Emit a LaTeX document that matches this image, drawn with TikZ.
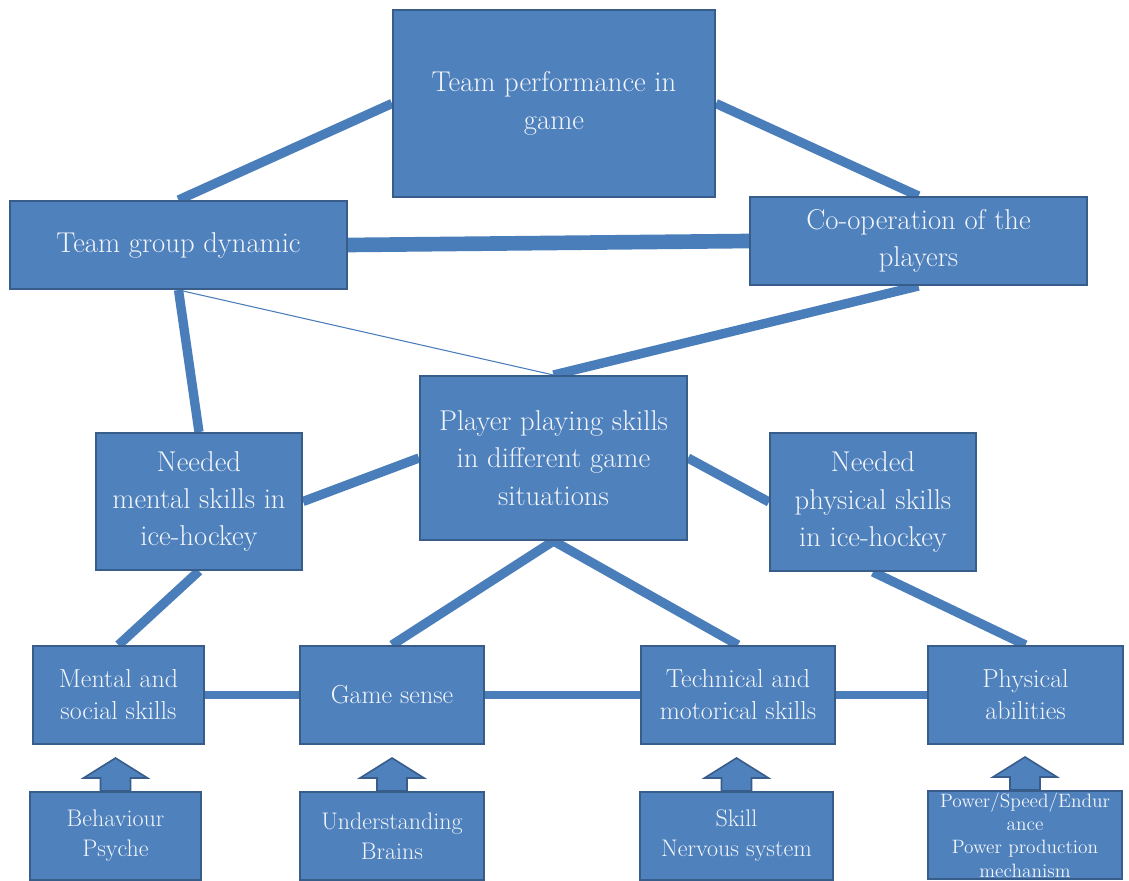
\documentclass[tikz,border=0pt]{standalone}
\usetikzlibrary{backgrounds,calc}
\definecolor{boxfill}{HTML}{4F81BD}
\definecolor{boxline}{HTML}{385D8A}
\definecolor{txtcol}{HTML}{F2F5FA}
\definecolor{linkcol}{HTML}{4A7EBB}
\tikzset{
  box/.style 2 args={draw=boxline, fill=boxfill, line width=1.5pt, text=txtcol,
    align=center, inner sep=0pt, minimum width=#1*0.75pt, minimum height=#2*0.75pt},
  bigtext/.style={font=\fontsize{21.5}{28}\selectfont},
  midtext/.style={font=\fontsize{19.5}{24}\selectfont},
  smalltext/.style={font=\fontsize{18}{22.5}\selectfont},
  tinytext/.style={font=\fontsize{14.5}{17.5}\selectfont},
  link/.style={draw=linkcol, line width=7pt},
  thicklink/.style={draw=linkcol, line width=11pt},
  thinlink/.style={draw=linkcol, line width=0.8pt},
  lowlink/.style={draw=linkcol, line width=6pt},
  blockarrow/.style={draw=boxline, fill=boxfill, line width=1.2pt, line join=miter}
}
\begin{document}
\begin{tikzpicture}[x=0.75pt,y=-0.75pt]
\useasboundingbox (0,0) rectangle (1129,881);

% top levels
\node[box={322}{187}, bigtext] (tp) at (554,103.5) {Team performance in\\game};
\node[box={337}{88}, bigtext] (tgd) at (178.5,245) {Team group dynamic};
\node[box={337}{88}, bigtext] (coop) at (918.5,241) {Co-operation of the\\players};

% middle level
\node[box={267}{164}, bigtext] (player) at (553.5,458) {Player playing skills\\in different game\\situations};
\node[box={206}{137}, bigtext] (mneed) at (199,501.5) {Needed\\mental skills in\\ice-hockey};
\node[box={206}{138}, bigtext] (pneed) at (873,502) {Needed\\physical skills\\in ice-hockey};

% lower row
\node[box={171}{98}, midtext] (ms) at (118.5,695) {Mental and\\social skills};
\node[box={184}{98}, midtext] (gs) at (392,695) {Game sense};
\node[box={194}{98}, midtext] (tech) at (738,695) {Technical and\\motorical skills};
\node[box={195}{98}, midtext] (pa) at (1025.5,695) {Physical\\abilities};

% bottom row
\node[box={171}{88}, smalltext] (b1) at (115.5,836) {Behaviour\\Psyche};
\node[box={184}{88}, smalltext] (b2) at (392,836) {Understanding\\Brains};
\node[box={193}{88}, smalltext] (b3) at (736.5,836) {Skill\\Nervous system};
\node[box={194}{88}, tinytext] (b4) at (1025,835) {Power/Speed/Endur\\ance\\Power production\\mechanism};

\begin{scope}[on background layer]
\fill[white] (0,0) rectangle (1129,881);
% connectors
\draw[link] (tp.west) -- (tgd.north);
\draw[link] (tp.east) -- (coop.north);
\draw[thicklink] (tgd.east) -- (coop.west);
\draw[link] (tgd.south) -- (mneed.north);
\draw[thinlink] (tgd.south) -- (player.north);
\draw[link] (coop.south) -- (player.north);
\draw[link] (player.west) -- (mneed.east);
\draw[link] (player.east) -- (pneed.west);
\draw[link] (player.south) -- (gs.north);
\draw[link] (player.south) -- (tech.north);
\draw[link] (mneed.south) -- (ms.north);
\draw[link] (pneed.south) -- (pa.north);
\draw[lowlink] (ms.east) -- (gs.west);
\draw[lowlink] (gs.east) -- (tech.west);
\draw[lowlink] (tech.east) -- (pa.west);
% block arrows
\foreach \b in {b1,b2,b3,b4}{
  \draw[blockarrow] ($(\b.north)+(-15,0)$) -- ($(\b.north)+(-15,-13)$) -- ($(\b.north)+(-32,-13)$)
    -- ($(\b.north)+(0,-33)$) -- ($(\b.north)+(32,-13)$) -- ($(\b.north)+(15,-13)$)
    -- ($(\b.north)+(15,0)$) -- cycle;
}
\end{scope}
\end{tikzpicture}
\end{document}
